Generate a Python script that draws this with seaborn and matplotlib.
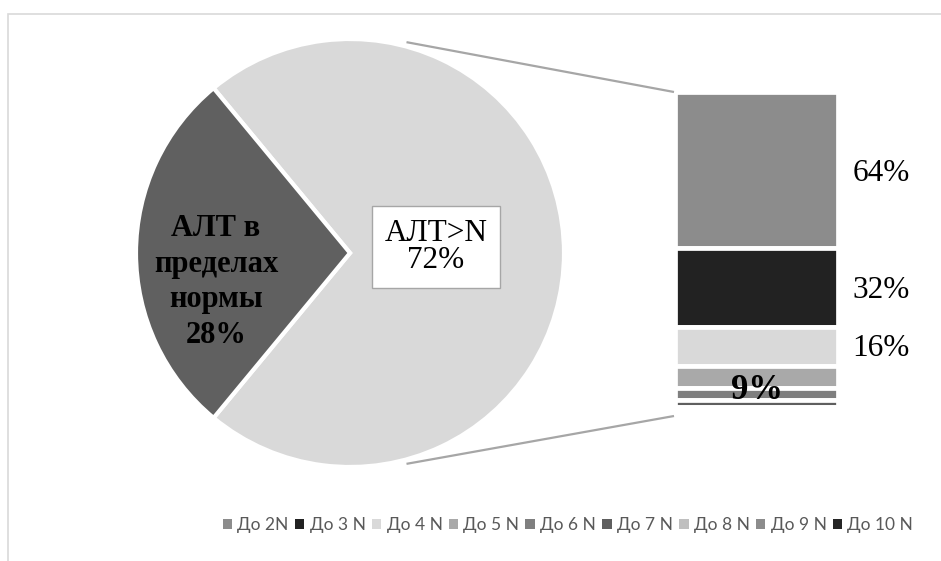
import numpy as np
import matplotlib
matplotlib.use("Agg")
import matplotlib.pyplot as plt
from matplotlib.patches import Patch, Rectangle
import seaborn as sns

# ---------------- data ----------------
pie_labels = ["АЛТ>N", "АЛТ в\nпределах\nнормы"]
pie_values = [72, 28]
pie_colors = ["#d9d9d9", "#606060"]

bar_categories = ["До 2N", "До 3 N", "До 4 N", "До 5 N", "До 6 N",
                  "До 7 N", "До 8 N", "До 9 N", "До 10 N"]
bar_values = [64, 32, 16, 9, 5, 3, 1, 0.3, 0.2]
bar_colors = ["#8c8c8c", "#222222", "#d9d9d9", "#a9a9a9", "#7f7f7f",
              "#5f5f5f", "#bfbfbf", "#8c8c8c", "#262626"]
bar_labels = ["64%", "32%", "16%", "9%"]

# ---------------- style ----------------
sns.set_theme(style="white")
plt.rcParams["font.family"] = ["Liberation Serif", "DejaVu Serif"]

W, H = 941, 561
fig = plt.figure(figsize=(W / 100, H / 100), dpi=100)
fig.patch.set_facecolor("white")

ax = fig.add_axes([0, 0, 1, 1])

def Y(img_y):
    return H - img_y

# pie
cx, cy, r = 350, Y(253), 214
wedges, _ = ax.pie(pie_values, colors=pie_colors, startangle=180 + 180 * pie_values[1] / 100,
                   counterclock=True, center=(cx, cy), radius=r,
                   wedgeprops=dict(edgecolor="white", linewidth=3))
ax.set_xlim(0, W)
ax.set_ylim(0, H)
ax.set_aspect("equal")
ax.axis("off")

# chart border
ax.add_patch(Rectangle((8, -20), 1000, H - 14 + 20, fill=False,
                       edgecolor="#d9d9d9", linewidth=1.2, zorder=0))

# pie labels
ax.text(216, Y(282), f"{pie_labels[1]}\n{pie_values[1]}%", ha="center", va="center",
        fontsize=22, fontweight="bold", color="black", linespacing=1.3)
ax.text(436, Y(247), f"{pie_labels[0]}\n{pie_values[0]}%", ha="center", va="center",
        fontsize=22.5, color="black", linespacing=0.95,
        bbox=dict(boxstyle="square,pad=0.4", facecolor="white", edgecolor="#a6a6a6", linewidth=1))

# stacked bar
bx0, bx1 = 675, 838
by_top, by_bot = 92, 411
bax = fig.add_axes([bx0 / W, (H - by_bot) / H, (bx1 - bx0) / W, (by_bot - by_top) / H])
total = sum(bar_values)
bottoms = total - np.cumsum(bar_values)
for cat, v, b, c in zip(bar_categories, bar_values, bottoms, bar_colors):
    bax.bar(0, v, bottom=b, width=1.0, color=c, edgecolor="white", linewidth=3.4, label=cat)
bax.set_xlim(-0.5, 0.5)
bax.set_ylim(0, total)
bax.axis("off")

for lab, v, b in zip(bar_labels[:3], bar_values[:3], bottoms[:3]):
    bax.annotate(lab, xy=(0.5, b + v / 2), xytext=(10.5, -2), textcoords="offset points",
                 ha="left", va="center", fontsize=22.5, color="black", annotation_clip=False)
bax.annotate(bar_labels[3], xy=(0, bottoms[3] + bar_values[3] / 2), xytext=(0, -10),
             textcoords="offset points", ha="center", va="center", fontsize=25,
             fontweight="bold", color="black", annotation_clip=False)

# connector lines
ang = np.deg2rad(75)
rl = r * 1.02
ax.plot([cx + rl * np.cos(ang), bx0 - 1], [cy + rl * np.sin(ang), Y(by_top)],
        color="#a6a6a6", linewidth=1.6, solid_capstyle="butt")
ax.plot([cx + rl * np.cos(-ang), bx0 - 1], [cy + rl * np.sin(-ang), Y(by_bot + 5)],
        color="#a6a6a6", linewidth=1.6, solid_capstyle="butt")

# legend
handles = [Patch(facecolor=c, edgecolor="none") for c in bar_colors]
leg = fig.legend(handles, bar_categories, loc="center", bbox_to_anchor=(568 / W, (H - 525) / H),
                 ncol=9, frameon=False, handlelength=0.55, handleheight=0.55,
                 handletextpad=0.3, columnspacing=0.35,
                 prop={"family": ["Lato", "DejaVu Sans"], "size": 12.5})
for t in leg.get_texts():
    t.set_color("#595959")

fig.savefig("out.png", dpi=100)
